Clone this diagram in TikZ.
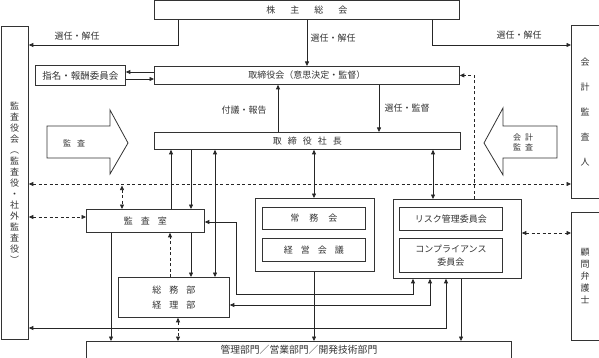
\documentclass[tikz,border=0pt]{standalone}
\usepackage{fontspec}
\newfontfamily\jp{Noto Sans CJK JP}
\usetikzlibrary{arrows.meta}
\tikzset{
  box/.style={draw=black!80, line width=0.8pt, anchor=north west, inner sep=0pt,
    align=center, text=black!80, font=\jp\fontsize{9}{11}\selectfont},
  lbl/.style={inner sep=0pt, text=black!80, font=\jp\fontsize{9}{11}\selectfont},
  ln/.style={draw=black!85, line width=0.7pt},
  dsh/.style={ln, dash pattern=on 3pt off 2.5pt},
  blk/.style={draw=black!80, line width=0.8pt, fill=white},
  >={Triangle[length=4.5pt,width=4pt]}
}
\begin{document}
\begin{tikzpicture}[x=1pt,y=-1pt]
\useasboundingbox (0,0) rectangle (599,358);
% boxes
\node[box, minimum width=305pt, minimum height=18.5pt] (kabu) at (154,0.5) {株\kern15pt 主\kern15pt 総\kern15pt 会};
\node[box, minimum width=27.5pt, minimum height=313pt, font=\jp\fontsize{9}{11}\selectfont] (kansa) at (0.5,26)
  {監\\査\\役\\会\\︵\\監\\査\\役\\・\\社\\外\\監\\査\\役\\︶};
\node[box, minimum width=27.5pt, minimum height=173pt, font=\jp\fontsize{9}{25}\selectfont] (kaikei) at (571,25)
  {会\\計\\監\\査\\人};
\node[box, minimum width=27.5pt, minimum height=128pt, font=\jp\fontsize{9}{12}\selectfont] (komon) at (571,212)
  {顧\\問\\弁\\護\\士};
\node[box, minimum width=90pt, minimum height=20pt, font=\jp\fontsize{9.5}{11}\selectfont] (shimei) at (35,65) {指名・報酬委員会};
\node[box, minimum width=305pt, minimum height=18pt] (torikai) at (154,66) {取締役会（意思決定・監督）};
\node[box, minimum width=306pt, minimum height=17pt] (shacho) at (154,132) {取\kern6pt 締\kern6pt 役\kern6pt 社\kern6pt 長};
\node[box, minimum width=118pt, minimum height=23pt] (kansashitsu) at (86,209) {監\kern8pt 査\kern8pt 室};
\node[box, minimum width=111pt, minimum height=40pt, font=\jp\fontsize{9}{15}\selectfont] (somu) at (118,277)
  {総\kern8pt 務\kern8pt 部\\経\kern8pt 理\kern8pt 部};
\node[box, minimum width=425pt, minimum height=16.5pt, font=\jp\fontsize{9.8}{11}\selectfont] (kanri) at (86,341) {管理部門／営業部門／開発技術部門};
\node[box, minimum width=119pt, minimum height=73pt] (jomugrp) at (255,198) {};
\node[box, minimum width=103pt, minimum height=22pt] (jomu) at (262,207) {常\kern10pt 務\kern10pt 会};
\node[box, minimum width=103pt, minimum height=23pt] (keiei) at (262,238) {経\kern8pt 営\kern8pt 会\kern8pt 議};
\node[box, minimum width=128pt, minimum height=79pt] (riskgrp) at (393,199) {};
\node[box, minimum width=103pt, minimum height=23pt] (risk) at (399,207) {リスク管理委員会};
\node[box, minimum width=103pt, minimum height=34pt, font=\jp\fontsize{9}{13}\selectfont] (comp) at (399,238) {コンプライアンス\\委員会};
% block arrows
\draw[blk] (47,126) -- (110,126) -- (110,110) -- (128,143) -- (110,174) -- (110,158) -- (47,158) -- cycle;
\node[lbl, font=\jp\fontsize{8}{10}\selectfont] (kansaarr) at (74,143) {監\kern6pt 査};
\draw[blk] (557,126) -- (503,126) -- (503,108) -- (484,143) -- (503,175) -- (503,158) -- (557,158) -- cycle;
\node[lbl, align=center, font=\jp\fontsize{8}{10}\selectfont] (kaikeiarr) at (523,142) {会\kern4pt 計\\監\kern4pt 査};
% coordinates
\coordinate (j1) at (178,45);
\coordinate (j2) at (307,0);
\coordinate (j3) at (432,45);
\coordinate (j4) at (0,72);
\coordinate (j5) at (0,79);
\coordinate (j6) at (278,0);
\coordinate (j7) at (379,0);
\coordinate (j8) at (474,0);
\coordinate (j9) at (0,184);
\coordinate (j10) at (171,0);
\coordinate (j11) at (191,0);
\coordinate (j12) at (215,0);
\coordinate (j13) at (314,0);
\coordinate (j14) at (433,0);
\coordinate (j15) at (122,184);
\coordinate (j16) at (0,217);
\coordinate (j17) at (111,0);
\coordinate (j18) at (170,0);
\coordinate (ja) at (0,222);
\coordinate (jb) at (236,294);
\coordinate (jc) at (413,0);
\coordinate (jd) at (0,305);
\coordinate (je) at (430,0);
\coordinate (jf) at (0,328);
\coordinate (jg) at (446,0);
\coordinate (jh) at (178,0);
\coordinate (ji) at (461,0);
\coordinate (jk) at (0,233);
% connectors
\draw[ln,->] (kabu.south -| j1) |- (kansa.east |- j1);
\draw[ln,->] (kabu.south -| j2) -- (torikai.north -| j2);
\draw[ln,->] (kabu.south -| j3) |- (kaikei.west |- j3);
\draw[ln,->] (torikai.west |- j4) -- (shimei.east |- j4);
\draw[ln,->] (shimei.east |- j5) -- (torikai.west |- j5);
\draw[ln,->] (shacho.north -| j6) -- (torikai.south -| j6);
\draw[ln,->] (torikai.south -| j7) -- (shacho.north -| j7);
\draw[dsh,->] (riskgrp.north -| j8) |- (torikai.east);
\draw[dsh,<->] (kansa.east |- j9) -- (kaikei.west |- j9);
\draw[ln,->] (kansashitsu.north -| j10) -- (shacho.south -| j10);
\draw[ln,->] (shacho.south -| j11) -- (kansashitsu.north -| j11);
\draw[ln,->] (kansashitsu.south -| j11) -- (somu.north -| j11);
\draw[ln,<->] (shacho.south -| j12) -- (somu.north -| j12);
\draw[ln,<->] (shacho.south -| j13) -- (jomugrp.north -| j13);
\draw[ln,->] (jomugrp.south -| j13) -- (kanri.north -| j13);
\draw[ln,<->] (shacho.south -| j14) -- (riskgrp.north -| j14);
\draw[dsh,<->] ([yshift=-1.5pt]j15) -- (kansashitsu.north -| j15);
\draw[dsh,<->] (kansa.east |- j16) -- (kansashitsu.west |- j16);
\draw[ln,->] (kansashitsu.south -| j17) -- (kanri.north -| j17);
\draw[dsh,->] (somu.north -| j18) -- (kansashitsu.south -| j18);
\draw[ln,<->] (kansashitsu.east |- ja) -| (jb) -| (riskgrp.south -| jc);
\draw[ln,<->] (somu.east |- jd) -| (riskgrp.south -| je);
\draw[ln,<->] (kansa.east |- jf) -| (riskgrp.south -| jg);
\draw[dsh,<->] (somu.south -| jh) -- (kanri.north -| jh);
\draw[ln,->] (riskgrp.south -| ji) -- (kanri.north -| ji);
\draw[dsh,<->] (riskgrp.east |- jk) -- (komon.west |- jk);
% labels
\node[lbl] (l1) at (77,36) {選任・解任};
\node[lbl] (l2) at (333,38) {選任・解任};
\node[lbl] (l3) at (519,35) {選任・解任};
\node[lbl] (l4) at (244,110) {付議・報告};
\node[lbl] (l5) at (407,108) {選任・監督};
\end{tikzpicture}
\end{document}
